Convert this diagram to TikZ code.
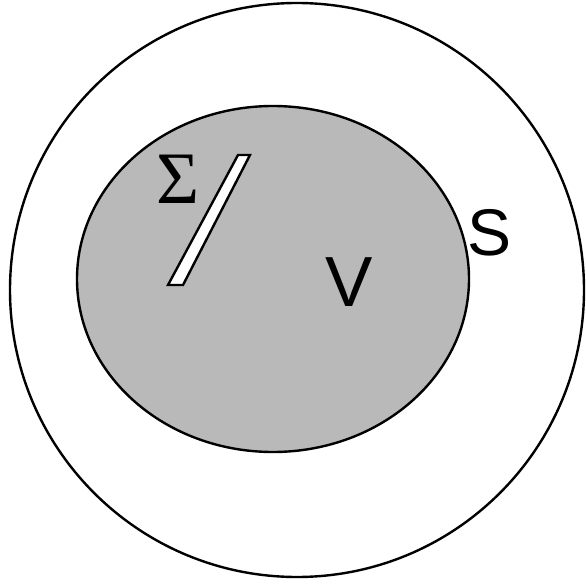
\documentclass[tikz,border=0pt]{standalone}
\usepackage{fontspec}
\setmainfont{Liberation Serif}
\newfontfamily\arialfont{Liberation Sans}
\begin{document}
\begin{tikzpicture}[x=1pt,y=-1pt,
  boundary/.style={draw=black,line width=2.4pt},
  lbl/.style={inner sep=0pt,anchor=center}]
\useasboundingbox (0,0) rectangle (586,585);
\draw[boundary] (297,290) circle[radius=287];
\draw[boundary,fill=gray!55] (273,279) ellipse[x radius=196,y radius=173];
\draw[boundary,fill=white,line join=miter] (238,155) -- (250,155) -- (183,285) -- (168,285) -- cycle;
\node[lbl] (sigma) at (178,179) {\fontsize{74}{74}\selectfont Σ};
\node[lbl] (v) at (349,282) {\arialfont\fontsize{71}{71}\selectfont V};
\node[lbl] (s) at (490,233) {\arialfont\fontsize{66}{66}\selectfont S};
\end{tikzpicture}
\end{document}
